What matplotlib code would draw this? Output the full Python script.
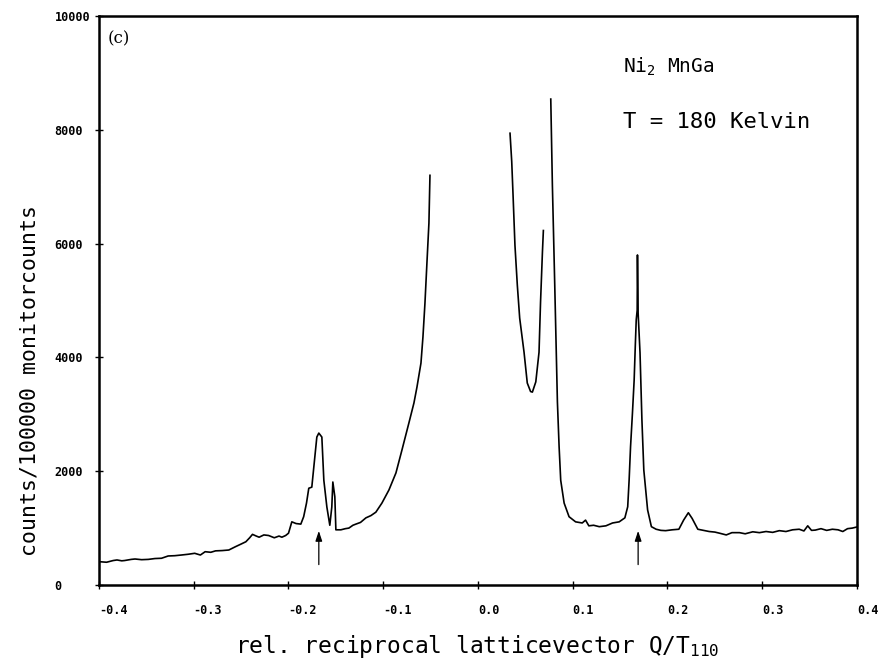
import matplotlib
matplotlib.use("Agg")
import matplotlib.pyplot as plt
import numpy as np

plt.rcParams['font.family'] = ['DejaVu Sans Mono']
plt.rcParams['mathtext.fontset'] = 'custom'
plt.rcParams['mathtext.rm'] = 'DejaVu Sans Mono'
plt.rcParams['mathtext.default'] = 'regular'

# scan left of the main reflection
q_left = [-0.400, -0.392, -0.385, -0.381, -0.376, -0.373, -0.366, -0.362, -0.355, -0.348,
          -0.341, -0.334, -0.327, -0.320, -0.313, -0.306, -0.299, -0.293, -0.288, -0.282,
          -0.277, -0.270, -0.263, -0.256, -0.250, -0.245, -0.241, -0.238, -0.234, -0.231,
          -0.226, -0.221, -0.215, -0.210, -0.207, -0.203, -0.200, -0.1965, -0.192, -0.187,
          -0.184, -0.181, -0.1786, -0.1754, -0.1733, -0.1701, -0.168, -0.1648, -0.1627, -0.1595,
          -0.1564, -0.1543, -0.1532, -0.1511, -0.150, -0.1447, -0.140, -0.1363, -0.132, -0.1289,
          -0.124, -0.1183, -0.113, -0.1078, -0.1014, -0.094, -0.0866, -0.0803, -0.0729, -0.0676,
          -0.0644, -0.0602, -0.0581, -0.056, -0.0539, -0.0518, -0.0507]
c_left = [410, 400, 430, 440, 425, 430, 450, 457, 445, 450,
          465, 470, 510, 515, 527, 540, 557, 527, 585, 575,
          600, 605, 615, 673, 720, 760, 830, 890, 860, 840,
          880, 870, 830, 860, 840, 870, 910, 1110, 1080, 1070,
          1200, 1440, 1700, 1720, 2070, 2600, 2670, 2600, 1840, 1370,
          1050, 1370, 1810, 1550, 970, 970, 990, 1000, 1050, 1070,
          1100, 1180, 1220, 1280, 1440, 1670, 1970, 2370, 2850, 3200,
          3480, 3900, 4360, 4950, 5660, 6360, 7200]

# between the main reflections
q_mid = [0.0338, 0.0356, 0.037, 0.039, 0.0415, 0.044, 0.0486, 0.052, 0.0555, 0.0574,
         0.061, 0.0644, 0.066, 0.068, 0.069]
c_mid = [7940, 7440, 6850, 5970, 5270, 4690, 4090, 3550, 3400, 3390,
         3570, 4090, 4970, 5850, 6230]

# right of the main reflection
q_right = [0.0768, 0.0785, 0.081, 0.0838, 0.0856, 0.0873, 0.0909, 0.0961, 0.103, 0.110,
           0.1135, 0.117, 0.122, 0.128, 0.135, 0.142, 0.149, 0.155, 0.158, 0.1595,
           0.161, 0.163, 0.1648, 0.166, 0.167, 0.168, 0.1683, 0.169, 0.171, 0.173,
           0.175, 0.179, 0.183, 0.188, 0.193, 0.198, 0.205, 0.212, 0.217, 0.222,
           0.226, 0.232, 0.238, 0.244, 0.250, 0.255, 0.262, 0.268, 0.276, 0.282,
           0.290, 0.297, 0.304, 0.311, 0.318, 0.325, 0.332, 0.339, 0.344, 0.348,
           0.352, 0.356, 0.362, 0.368, 0.374, 0.380, 0.385, 0.390, 0.395, 0.400]
c_right = [8540, 7030, 5270, 3220, 2430, 1840, 1440, 1200, 1110, 1090,
           1140, 1040, 1050, 1025, 1040, 1090, 1110, 1180, 1375, 1845,
           2430, 3020, 3600, 4200, 4660, 4830, 5800, 4780, 4080, 2900,
           2020, 1320, 1025, 980, 960, 955, 970, 980, 1140, 1270,
           1170, 980, 960, 940, 930, 910, 880, 920, 920, 900,
           935, 920, 940, 925, 955, 940, 970, 980, 950, 1040,
           960, 965, 990, 960, 980, 970, 940, 990, 1000, 1020]

arrow_q = [-0.168, 0.169]

fig = plt.figure(figsize=(8.82, 6.6), dpi=100)
ax = fig.add_axes([99 / 882, 75 / 660, 758 / 882, 569 / 660])

for q, c in [(q_left, c_left), (q_mid, c_mid), (q_right, c_right)]:
    ax.plot(q, c, color='black', lw=1.2)

for q in arrow_q:
    ax.annotate('', xy=(q, 1000), xytext=(q, 310),
                arrowprops=dict(arrowstyle='-|>,head_width=0.2,head_length=0.6',
                                color='black', lw=0.9, mutation_scale=10))

ax.set_xlim(-0.4, 0.4)
ax.set_ylim(0, 10000)
ax.set_xticks(np.arange(-0.4, 0.41, 0.1))
ax.set_xticklabels(['-0.4', '-0.3', '-0.2', '-0.1', '0.0', '0.1', '0.2', '0.3', '0.4'])
ax.set_yticks([0, 2000, 4000, 6000, 8000, 10000])
ax.set_yticklabels(['0', '2000', '4000', '6000', '8000', '10000'])
ax.tick_params(direction='inout', length=6, width=1, labelsize=8.5)
ax.tick_params(axis='y', pad=29)
ax.tick_params(axis='x', pad=11)
for lab in ax.get_yticklabels():
    lab.set_ha('left')
    lab.set_fontweight('bold')
for lab in ax.get_xticklabels():
    lab.set_ha('left')
    lab.set_fontweight('bold')
for s in ax.spines.values():
    s.set_linewidth(1.8)

ax.text(0.012, 0.975, '(c)', transform=ax.transAxes, ha='left', va='top',
        fontsize=12, family='DejaVu Serif')

fig.text(623 / 882, 1 - 73 / 660, r'Ni$_2$ MnGa', fontsize=14, va='baseline')
fig.text(623 / 882, 1 - 128 / 660, 'T = 180 Kelvin', fontsize=16, va='baseline')

fig.text(30 / 882, 1 - 381 / 660, 'counts/100000 monitorcounts', rotation=90,
         fontsize=15.5, ha='center', va='center')
fig.text(477 / 882, 1 - 646 / 660, r'rel. reciprocal latticevector Q/T$_{110}$',
         fontsize=16.5, ha='center', va='center')

fig.savefig('out.png', dpi=100)
